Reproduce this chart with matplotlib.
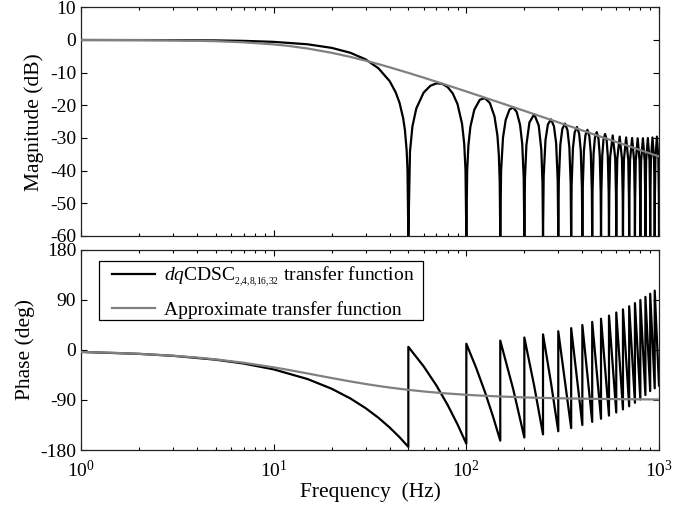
import matplotlib
matplotlib.use('Agg')
import matplotlib.pyplot as plt
from matplotlib.patches import Rectangle

# ---------------- data ----------------
# approximate (first-order) transfer function
approx_freq = [1, 1.5, 2, 3, 4, 5, 7, 10, 12, 15, 20, 25, 30, 35, 40, 50, 60, 70, 80, 100,
               120, 150, 200, 250, 300, 400, 500, 700, 850, 1000]
approx_mag_db = [-0.02, -0.04, -0.06, -0.14, -0.25, -0.38, -0.72, -1.36, -1.84, -2.62,
                 -3.93, -5.18, -6.34, -7.40, -8.37, -10.08, -11.53, -12.79, -13.89, -15.77,
                 -17.32, -19.22, -21.70, -23.63, -25.21, -27.70, -29.64, -32.55, -34.25, -35.65]
approx_phase_deg = [-3.47, -5.19, -6.91, -10.30, -13.63, -16.86, -22.99, -31.22, -36.03, -42.27,
                    -50.49, -56.57, -61.19, -64.76, -67.58, -71.74, -74.62, -76.74, -78.35, -80.63,
                    -82.17, -83.72, -85.28, -86.22, -86.85, -87.64, -88.11, -88.65, -88.89, -89.05]

# dqCDSC magnitude: pass band below the first notch
cdsc_freq_low = [1, 2, 3, 5, 7, 10, 15, 20, 25, 30, 35, 40, 43, 45, 47, 48, 49, 49.5]
cdsc_mag_low = [-0.01, -0.02, -0.05, -0.14, -0.28, -0.58, -1.33, -2.42, -3.92, -5.94,
                -8.68, -12.61, -16.04, -19.22, -23.94, -27.6, -33.8, -39.8]

# dqCDSC magnitude: lobes between notches (each starts at a notch)
lobe_freqs = [
    [50, 51, 52.5, 55, 60, 65, 70, 75, 80, 85, 90, 95, 97.5, 99],
    [100, 101, 102.5, 105, 110, 117.5, 125, 132.5, 140, 145, 147.5, 149],
    [150, 151.5, 155, 160, 167.5, 175, 182.5, 190, 195, 198.5],
    [200, 201.5, 205, 212.5, 225, 237.5, 245, 248.5],
    [250, 252, 257.5, 265, 275, 285, 292.5, 298],
    [300, 302, 307.5, 315, 325, 335, 342.5, 348],
    [350, 352, 357.5, 365, 375, 385, 392.5, 398],
    [400, 402, 407.5, 415, 425, 435, 442.5, 448],
    [450, 452, 457.5, 465, 475, 485, 492.5, 498],
    [500, 502, 507.5, 515, 525, 535, 542.5, 548],
    [550, 552, 557.5, 575, 592.5, 598],
    [600, 602, 607.5, 625, 642.5, 648],
    [650, 652, 657.5, 675, 692.5, 698],
    [700, 702, 707.5, 725, 742.5, 748],
    [750, 752, 757.5, 775, 792.5, 798],
    [800, 802, 807.5, 825, 842.5, 848],
    [850, 852, 857.5, 875, 892.5, 898],
    [900, 902, 907.5, 925, 942.5, 948],
    [950, 952, 957.5, 975, 992.5, 998],
    [1000],
]
lobe_mag_db = [
    [-60, -34.14, -26.46, -20.96, -16.13, -14.04, -13.28, -13.44, -14.43, -16.35, -19.63, -25.67, -31.80, -39.87],
    [-60, -40.04, -32.23, -26.53, -21.35, -18.29, -17.81, -19.32, -23.40, -29.28, -35.34, -43.35],
    [-60, -39.98, -29.85, -24.53, -21.30, -20.65, -22.02, -25.97, -31.77, -42.24],
    [-60, -42.35, -32.16, -25.26, -22.72, -26.17, -33.61, -44.05],
    [-60, -41.67, -30.66, -25.86, -24.32, -26.43, -31.66, -42.99],
    [-60, -43.09, -32.04, -27.20, -25.60, -27.66, -32.85, -44.15],
    [-60, -44.23, -33.16, -28.28, -26.64, -28.66, -33.82, -45.09],
    [-60, -45.16, -34.07, -29.18, -27.50, -29.49, -34.62, -45.88],
    [-60, -45.94, -34.83, -29.91, -28.20, -30.16, -35.27, -46.52],
    [-60, -46.56, -35.44, -30.50, -28.77, -30.71, -35.80, -47.03],
    [-60, -47.07, -35.94, -29.23, -36.22, -47.44],
    [-60, -47.47, -36.33, -29.58, -36.54, -47.75],
    [-60, -47.77, -36.62, -29.84, -36.76, -47.96],
    [-60, -47.98, -36.81, -30.01, -36.91, -48.10],
    [-60, -48.10, -36.93, -30.09, -36.96, -48.14],
    [-60, -48.14, -36.96, -30.09, -36.93, -48.10],
    [-60, -48.10, -36.91, -30.01, -36.81, -47.98],
    [-60, -47.96, -36.76, -29.84, -36.62, -47.77],
    [-60, -47.75, -36.54, -29.58, -36.33, -47.47],
    [-60],
]

# dqCDSC phase (saw-tooth, repeated frequency = jump)
cdsc_phase_freq = [1, 2, 3, 5, 7, 10, 15, 20, 25, 30, 35, 40, 45, 50,
                   50, 60, 70, 80, 90, 100,
                   100, 112.5, 125, 137.5, 150,
                   150, 175, 200,
                   200, 225, 250,
                   250, 275, 300,
                   300, 350, 350, 400, 400, 450, 450, 500, 500, 550, 550, 600,
                   600, 650, 650, 700, 700, 750, 750, 800, 800, 850, 850, 900,
                   900, 950, 950, 1000]
cdsc_phase_deg = [-3.49, -6.98, -10.46, -17.44, -24.41, -34.88, -52.31, -69.75, -87.19, -104.63,
                  -122.06, -139.5, -156.94, -174.38,
                  5.63, -29.25, -64.13, -99.0, -133.88, -168.75,
                  11.25, -32.34, -75.94, -119.53, -163.13,
                  16.88, -70.31, -157.5,
                  22.5, -64.69, -151.88,
                  28.13, -59.06, -146.25,
                  33.75, -140.63, 39.38, -135.0, 45.0, -129.38, 50.63, -123.75, 56.25, -118.13,
                  61.88, -112.5, 67.5, -106.88, 73.13, -101.25, 78.75, -95.0, 84.38, -89.0,
                  90.0, -81.0, 95.63, -74.0, 101.25, -69.0, 106.88, -64.0]

mag_ticks = [-60, -50, -40, -30, -20, -10, 0, 10]
phase_ticks = [-180, -90, 0, 90, 180]
legend_labels = [r'$dq$CDSC$_{{}_{2{,}4{,}8{,}16{,}32}}$ transfer function',
                 'Approximate transfer function']

# ---------------- styling ----------------
plt.rcParams['font.family'] = ['Liberation Serif', 'DejaVu Serif']
plt.rcParams['mathtext.fontset'] = 'custom'
plt.rcParams['mathtext.rm'] = 'Liberation Serif'
plt.rcParams['mathtext.it'] = 'Liberation Serif:italic'
plt.rcParams['mathtext.bf'] = 'Liberation Serif:bold'
plt.rcParams['axes.unicode_minus'] = False

cdsc_freq = cdsc_freq_low + [f for lob in lobe_freqs for f in lob]
cdsc_mag = cdsc_mag_low + [v for lob in lobe_mag_db for v in lob]

fig = plt.figure(figsize=(6.97, 5.13), dpi=100)
ax1 = fig.add_axes([0.1162, 0.540, 0.8293, 0.4458])
ax2 = fig.add_axes([0.1162, 0.1228, 0.8293, 0.3899])

BLACK = 'black'
GRAY = '#808080'
LW = 1.6

ax1.plot(cdsc_freq, cdsc_mag, color=BLACK, lw=LW, zorder=2)
ax1.plot(approx_freq, approx_mag_db, color=GRAY, lw=LW, zorder=3)
l1, = ax2.plot(cdsc_phase_freq, cdsc_phase_deg, color=BLACK, lw=LW, zorder=2)
l2, = ax2.plot(approx_freq, approx_phase_deg, color=GRAY, lw=LW, zorder=3)

for ax in (ax1, ax2):
    ax.set_xscale('log')
    ax.set_xlim(1, 1000)
    ax.tick_params(which='both', direction='in', top=True, right=True, width=0.8,
                   labelsize=14, colors='black')
    ax.tick_params(which='major', length=4.5)
    ax.tick_params(which='minor', length=2.5)
    for sp in ax.spines.values():
        sp.set_linewidth(0.9)
        sp.set_color('#222222')

ax1.set_ylim(-60, 10)
ax1.set_yticks(mag_ticks)
ax1.tick_params(labelbottom=False)
ax1.set_ylabel('Magnitude (dB)', fontsize=15.5, labelpad=4)

ax2.set_ylim(-180, 180)
ax2.set_yticks(phase_ticks)
ax2.tick_params(axis='x', which='major', pad=7)
ax2.set_ylabel('Phase (deg)', fontsize=15.5, labelpad=4)
ax2.set_xlabel('Frequency  (Hz)', fontsize=15.5, labelpad=1)

# legend box (MATLAB style: square, thin black frame)
ax2.add_patch(Rectangle((0.0311, 0.65), 0.5606, 0.295, transform=ax2.transAxes,
                        facecolor='white', edgecolor='black', lw=0.9, zorder=4))
leg = ax2.legend([l1, l2], legend_labels, loc='upper left', bbox_to_anchor=(0.0536, 0.927),
                 borderaxespad=0, borderpad=0, fontsize=14, frameon=False,
                 handlelength=2.2, labelspacing=0.6, handletextpad=0.46)
leg.set_zorder(5)

fig.savefig('out.png', dpi=100)
